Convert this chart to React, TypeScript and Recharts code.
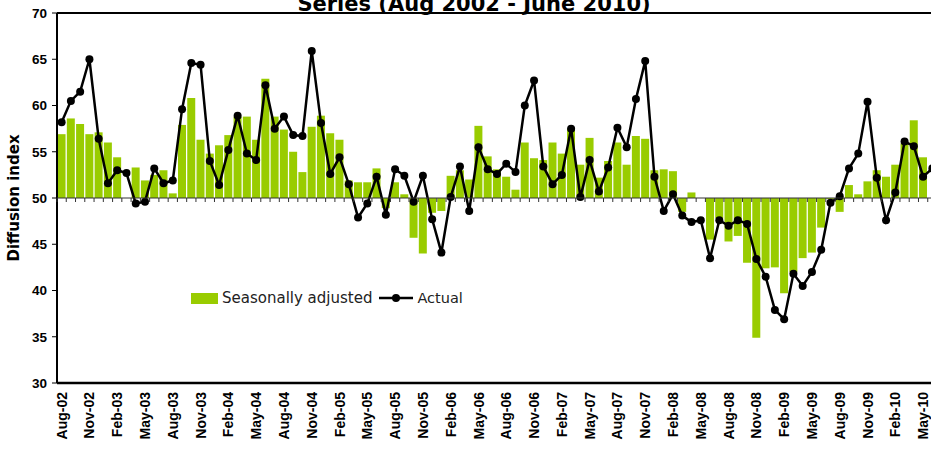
import React from 'react';
import { ComposedChart, Bar, Line, XAxis, YAxis, ReferenceLine, Legend, Label } from 'recharts';

const months = [
    'Aug-02', 'Sep-02', 'Oct-02', 'Nov-02', 'Dec-02',
    'Jan-03', 'Feb-03', 'Mar-03', 'Apr-03', 'May-03', 'Jun-03', 'Jul-03', 'Aug-03', 'Sep-03', 'Oct-03', 'Nov-03', 'Dec-03',
    'Jan-04', 'Feb-04', 'Mar-04', 'Apr-04', 'May-04', 'Jun-04', 'Jul-04', 'Aug-04', 'Sep-04', 'Oct-04', 'Nov-04', 'Dec-04',
    'Jan-05', 'Feb-05', 'Mar-05', 'Apr-05', 'May-05', 'Jun-05', 'Jul-05', 'Aug-05', 'Sep-05', 'Oct-05', 'Nov-05', 'Dec-05',
    'Jan-06', 'Feb-06', 'Mar-06', 'Apr-06', 'May-06', 'Jun-06', 'Jul-06', 'Aug-06', 'Sep-06', 'Oct-06', 'Nov-06', 'Dec-06',
    'Jan-07', 'Feb-07', 'Mar-07', 'Apr-07', 'May-07', 'Jun-07', 'Jul-07', 'Aug-07', 'Sep-07', 'Oct-07', 'Nov-07', 'Dec-07',
    'Jan-08', 'Feb-08', 'Mar-08', 'Apr-08', 'May-08', 'Jun-08', 'Jul-08', 'Aug-08', 'Sep-08', 'Oct-08', 'Nov-08', 'Dec-08',
    'Jan-09', 'Feb-09', 'Mar-09', 'Apr-09', 'May-09', 'Jun-09', 'Jul-09', 'Aug-09', 'Sep-09', 'Oct-09', 'Nov-09', 'Dec-09',
    'Jan-10', 'Feb-10', 'Mar-10', 'Apr-10', 'May-10', 'Jun-10',
];

// seasonally adjusted index (bars, drawn from the 50 line); last month not shown in the source
const seasonallyAdjusted = [
    56.9, 58.6, 58.0, 56.9, 57.1, 56.0, 54.4, 50.0, 53.3, 51.9,
    52.5, 53.0, 50.5, 57.9, 60.8, 56.3, 54.8, 55.7, 56.8, 58.8,
    58.8, 56.3, 62.9, 58.8, 57.4, 55.0, 52.8, 57.7, 58.9, 57.0,
    56.3, 51.9, 51.7, 51.7, 53.2, 48.9, 51.7, 50.4, 45.7, 44.0,
    48.4, 48.6, 52.4, 53.0, 52.0, 57.8, 54.5, 53.1, 52.3, 50.9,
    56.0, 54.3, 54.1, 56.0, 54.8, 57.5, 53.6, 56.5, 52.2, 54.0,
    56.0, 53.6, 56.7, 56.4, 53.0, 53.1, 52.9, 48.5, 50.6, 50.0,
    45.5, 47.8, 45.3, 45.9, 43.0, 34.9, 42.4, 42.5, 39.7, 42.0,
    43.5, 44.1, 46.8, 49.9, 48.5, 51.4, 50.4, 51.8, 53.0, 52.3,
    53.6, 55.9, 58.4, 54.4, null,
];

// actual index (line)
const actual = [
    58.2, 60.5, 61.5, 65.0, 56.4, 51.6, 53.0, 52.7, 49.4, 49.6,
    53.2, 51.6, 51.9, 59.6, 64.6, 64.4, 54.0, 51.4, 55.2, 58.9,
    54.8, 54.1, 62.2, 57.5, 58.8, 56.8, 56.7, 65.9, 58.1, 52.6,
    54.4, 51.5, 47.9, 49.4, 52.3, 48.2, 53.1, 52.4, 49.6, 52.4,
    47.7, 44.1, 50.1, 53.4, 48.6, 55.5, 53.1, 52.6, 53.7, 52.8,
    60.0, 62.7, 53.4, 51.5, 52.5, 57.5, 50.1, 54.1, 50.7, 53.3,
    57.6, 55.5, 60.7, 64.8, 52.3, 48.6, 50.4, 48.1, 47.4, 47.6,
    43.5, 47.6, 47.0, 47.6, 47.2, 43.4, 41.5, 37.9, 36.9, 41.8,
    40.5, 42.0, 44.4, 49.5, 50.2, 53.2, 54.8, 60.4, 52.2, 47.6,
    50.6, 56.1, 55.6, 52.3, 53.2,
];

const yTicks = [30, 35, 40, 45, 50, 55, 60, 65, 70];
const BASE = 50;

const chartData = months.map((month, i) => ({
    month,
    idx: i,
    sa: seasonallyAdjusted[i],
    actual: actual[i],
}));

// tick marks on the 50 line sit between categories
const boundaries = [...months.map((_, i) => i - 0.5), months.length - 0.5];

const W = 945;
const H = 452;
const MARGIN = { top: 13, right: 8, bottom: 0, left: 0 };
const Y_AXIS_W = 57;
const X_AXIS_H = 69;
const GREEN = '#99CC00';
const AXIS_FONT = '"Liberation Sans", Arial, sans-serif';
const TEXT_FONT = '"DejaVu Sans", Verdana, sans-serif';

const MonthTick = ({ x, y, payload }: any) => (
    <text
        x={x}
        y={y}
        transform={`rotate(-90, ${x}, ${y})`}
        textAnchor="end"
        dy="0.36em"
        fontFamily={AXIS_FONT}
        fontWeight="bold"
        fontSize={14}
        fill="#000"
    >
        {payload.value}
    </text>
);

const LegendContent = () => (
    <div style={{ display: 'flex', alignItems: 'center', fontFamily: TEXT_FONT, fontSize: 15, color: '#222', whiteSpace: 'nowrap' }}>
        <span style={{ display: 'inline-block', width: 27, height: 11, background: GREEN, marginRight: 4 }} />
        <span>Seasonally adjusted</span>
        <svg width={34} height={12} style={{ marginLeft: 7, marginRight: 4 }}>
            <line x1={0} y1={6} x2={34} y2={6} stroke="#000" strokeWidth={2.5} />
            <circle cx={17} cy={6} r={4} fill="#000" />
        </svg>
        <span style={{ fontSize: 14.5 }}>Actual</span>
    </div>
);

export default function App() {
    return (
        <div style={{ position: 'absolute', left: 0, top: 0, width: 931, height: 452, overflow: 'hidden', background: '#fff' }}>
            <svg width={931} height={30} style={{ position: 'absolute', left: 0, top: 0 }}>
                <text x={474} y={11} textAnchor="middle" fontFamily={TEXT_FONT} fontWeight="bold" fontSize={21} fill="#000">
                    Series (Aug 2002 - June 2010)
                </text>
            </svg>

            <div style={{ position: 'absolute', left: 0, top: 0 }}>
                <ComposedChart width={W} height={H} data={chartData} margin={MARGIN} barCategoryGap="6%">
                    <XAxis
                        dataKey="month"
                        interval={2}
                        height={X_AXIS_H}
                        tickLine={false}
                        tickSize={0}
                        tickMargin={9}
                        axisLine={{ stroke: '#000', strokeWidth: 2.5 }}
                        tick={<MonthTick />}
                    />
                    <YAxis
                        width={Y_AXIS_W}
                        domain={[30, 70]}
                        ticks={yTicks}
                        interval={0}
                        allowDataOverflow
                        axisLine={{ stroke: '#000', strokeWidth: 2 }}
                        tickLine={{ stroke: '#000' }}
                        tickSize={5}
                        tickMargin={5}
                        tick={{ fill: '#000', fontFamily: AXIS_FONT, fontWeight: 'bold', fontSize: 13.5 }}
                    >
                        <Label
                            content={({ viewBox }: any) => {
                                const cx = viewBox.x + 14;
                                const cy = viewBox.y + viewBox.height / 2;
                                return (
                                    <text
                                        x={cx}
                                        y={cy}
                                        transform={`rotate(-90, ${cx}, ${cy})`}
                                        textAnchor="middle"
                                        dy="0.36em"
                                        fontFamily={TEXT_FONT}
                                        fontWeight="bold"
                                        fontSize={15}
                                        fill="#000"
                                    >
                                        Diffusion index
                                    </text>
                                );
                            }}
                        />
                    </YAxis>
                    <ReferenceLine y={70} stroke="#000" strokeWidth={2} />
                    <Bar
                        name="Seasonally adjusted"
                        dataKey={(d: any) => (d.sa == null ? null : d.sa >= BASE ? [BASE, d.sa] : [d.sa, BASE])}
                        fill={GREEN}
                        isAnimationActive={false}
                    />
                    <Line
                        name="Actual"
                        dataKey="actual"
                        stroke="#000"
                        strokeWidth={2.5}
                        dot={{ r: 4, fill: '#000', stroke: '#000', strokeWidth: 0 }}
                        isAnimationActive={false}
                    />
                    <Legend
                        layout="horizontal"
                        verticalAlign="middle"
                        align="center"
                        content={<LegendContent />}
                        wrapperStyle={{ left: 191, top: 289, width: 300 }}
                    />
                </ComposedChart>
            </div>

            {/* category axis crossing at 50, with its tick marks */}
            <div style={{ position: 'absolute', left: 0, top: 0, pointerEvents: 'none' }}>
                <ComposedChart width={W} height={210} data={chartData} margin={{ top: 13, right: 8, bottom: 0, left: Y_AXIS_W }}>
                    <XAxis
                        dataKey="idx"
                        type="number"
                        domain={[-0.5, months.length - 0.5]}
                        ticks={boundaries}
                        interval={0}
                        height={12}
                        tickSize={4}
                        tickFormatter={() => ''}
                        axisLine={{ stroke: '#333', strokeWidth: 1 }}
                        tickLine={{ stroke: '#333', strokeWidth: 1 }}
                    />
                    <YAxis hide domain={[0, 100]} />
                    <Line dataKey="idx" stroke="none" dot={false} isAnimationActive={false} />
                </ComposedChart>
            </div>
        </div>
    );
}
